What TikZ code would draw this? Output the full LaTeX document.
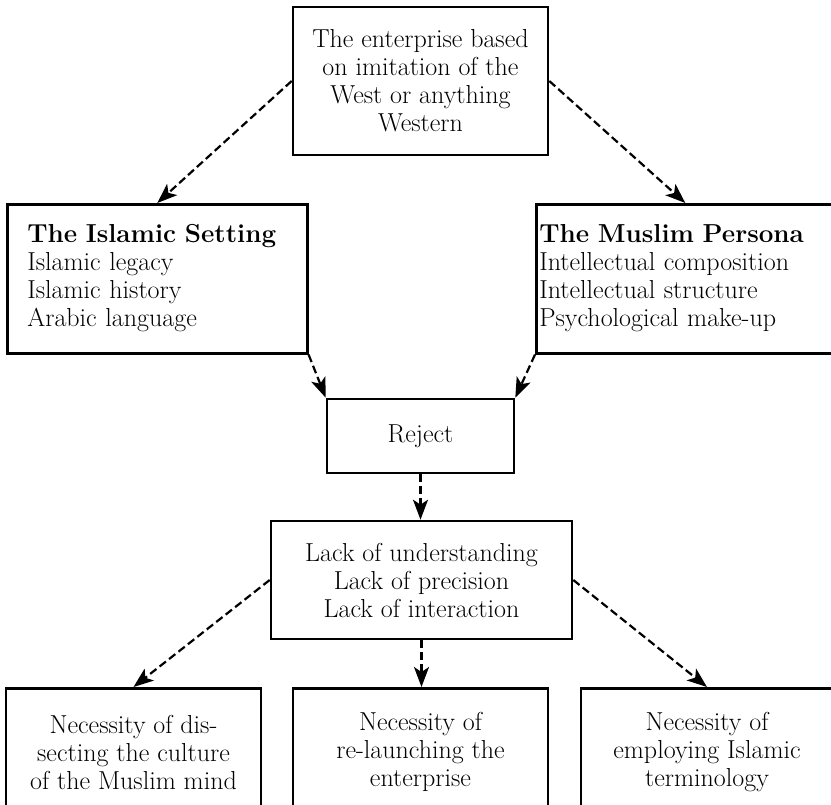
\documentclass[tikz,border=0pt]{standalone}
\usepackage{fontspec}
\usetikzlibrary{arrows.meta}

\begin{document}
\begin{tikzpicture}[x=1pt, y=-1pt,
    box/.style={draw, line width=2.6pt, inner sep=0pt, align=center,
      font=\fontsize{26}{28}\selectfont},
    flow/.style={-{Stealth[length=20pt, width=15pt, inset=5pt]}, line width=2.2pt,
      dash pattern=on 8pt off 4pt}]
    \useasboundingbox (0,0) rectangle (831,805);
    % Starting enterprise
    \node[box, minimum width=255pt, minimum height=148pt]
      (src) at (420.5,81) {The enterprise based\\on imitation of the\\West or anything\\Western};
    % Setting and persona
    \node[box, anchor=north west, inner xsep=20pt, text width=260pt, minimum height=149pt, align=left]
      (isl) at (6,203) {\begin{tabular}{@{}l@{}}\multicolumn{1}{@{}c@{}}{\bfseries The Islamic Setting}\\Islamic legacy\\Islamic history\\Arabic language\end{tabular}};
    \node[box, anchor=north west, inner xsep=3pt, text width=292pt, minimum height=149pt, align=left]
      (per) at (535,203) {\begin{tabular}{@{}l@{}}\multicolumn{1}{@{}c@{}}{\bfseries The Muslim Persona}\\Intellectual composition\\Intellectual structure\\Psychological make-up\end{tabular}};
    % Reject
    \node[box, minimum width=187pt, minimum height=74pt] (rej) at (420.5,436) {Reject};
    % Lacks
    \node[box, minimum width=301pt, minimum height=118pt]
      (lack) at (421.5,580) {Lack of understanding\\Lack of precision\\Lack of interaction};
    % Necessities
    \node[box, anchor=north, minimum width=255pt, minimum height=128pt]
      (nec1) at (133.5,687) {Necessity of dis-\\secting the culture\\of the Muslim mind};
    \node[box, anchor=north, minimum width=255pt, minimum height=128pt]
      (nec2) at (420.5,687) {Necessity of\\re-launching the\\enterprise};
    \node[box, anchor=north, minimum width=252pt, minimum height=128pt]
      (nec3) at (707,687) {Necessity of\\employing Islamic\\terminology};
    \draw[flow] (src.west) -- (isl.north);
    \draw[flow] (src.east) -- (per.north);
    \draw[flow] (isl.south east) -- (rej.north west);
    \draw[flow] (per.south west) -- (rej.north east);
    \draw[flow] (rej.south) -- (rej.south |- lack.north);
    \draw[flow] (lack.west) -- (nec1.north);
    \draw[flow] (lack.south) -- (lack.south |- nec2.north);
    \draw[flow] (lack.east) -- (nec3.north);
\end{tikzpicture}
\end{document}
